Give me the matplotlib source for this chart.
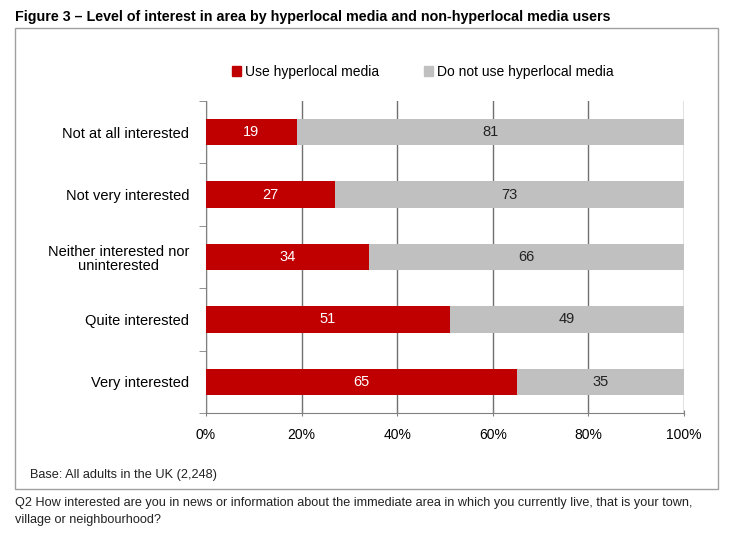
import matplotlib
matplotlib.use("Agg")
import matplotlib.pyplot as plt
from matplotlib.patches import Rectangle, Patch

categories = ["Not at all interested", "Not very interested",
              "Neither interested nor\nuninterested", "Quite interested", "Very interested"]
use_hyper = [19, 27, 34, 51, 65]
not_use = [81, 73, 66, 49, 35]
xticks = [0, 20, 40, 60, 80, 100]
xticklabels = ["0%", "20%", "40%", "60%", "80%", "100%"]

RED = "#C00000"
GREY = "#C0C0C0"
LINE = "#808080"

plt.rcParams['font.family'] = ['Liberation Sans', 'DejaVu Sans']

W, H = 736, 538
fig = plt.figure(figsize=(W / 100, H / 100), dpi=100)

def fx(x): return x / W
def fy(y): return 1 - y / H

# outer frame
fig.patches.append(Rectangle((fx(15), fy(489)), fx(718) - fx(15), fy(28) - fy(489),
                             transform=fig.transFigure, fill=False, edgecolor="#A0A0A0", lw=1.0))

ax = fig.add_axes([fx(206), fy(413), fx(684) - fx(206), fy(101) - fy(413)])
y = list(range(len(categories)))
ax.barh(y, use_hyper, height=0.42, color=RED, zorder=3)
ax.barh(y, not_use, left=use_hyper, height=0.42, color=GREY, zorder=3)
for i in y:
    ax.text(use_hyper[i] / 2, i, str(use_hyper[i]), ha="center", va="center",
            color="white", fontsize=10.5, zorder=4)
    ax.text(use_hyper[i] + not_use[i] / 2, i, str(not_use[i]), ha="center", va="center",
            color="#222222", fontsize=10.5, zorder=4)

ax.set_xlim(0, 100)
ax.set_ylim(len(categories) - 0.5, -0.5)
ax.set_xticks(xticks)
ax.set_xticklabels(xticklabels, fontsize=10)
ax.set_yticks(y)
ax.set_yticklabels(categories, fontsize=10.5, multialignment="center", linespacing=1.0)
ax.tick_params(axis="y", length=0, pad=12)
ax.set_yticks([i - 0.5 for i in range(len(categories) + 1)], minor=True)
ax.tick_params(axis="y", which="minor", length=5, color=LINE, direction="out")
ax.tick_params(axis="x", length=5, color=LINE, direction="inout", pad=8)
for s in ["top", "right"]:
    ax.spines[s].set_visible(False)
for s in ["left", "bottom"]:
    ax.spines[s].set_color(LINE)
ax.xaxis.grid(True, color="#707070", lw=1.0, zorder=0)
ax.set_axisbelow(True)

handles = [Patch(color=RED), Patch(color=GREY)]
fig.legend(handles, ["Use hyperlocal media", "Do not use hyperlocal media"],
           loc="center", bbox_to_anchor=(fx(423), fy(72)), ncol=2, frameon=False,
           fontsize=10, handlelength=0.65, handleheight=0.65, handletextpad=0.3,
           columnspacing=3.2)

fig.text(fx(15), fy(17), "Figure 3 \u2013 Level of interest in area by hyperlocal media and non-hyperlocal media users",
         fontsize=10.3, fontweight="bold", ha="left", va="center",
         family=['Liberation Sans Narrow', 'Liberation Sans'])
fig.text(fx(30), fy(475), "Base: All adults in the UK (2,248)", fontsize=9.2,
         ha="left", va="center", color="#222222")
fig.text(fx(15), fy(503), "Q2 How interested are you in news or information about the immediate area in which you currently live, that is your town,",
         fontsize=9.1, ha="left", va="center", color="#222222")
fig.text(fx(15), fy(520), "village or neighbourhood?", fontsize=9.1, ha="left", va="center", color="#222222")

fig.savefig("out.png", dpi=100)
